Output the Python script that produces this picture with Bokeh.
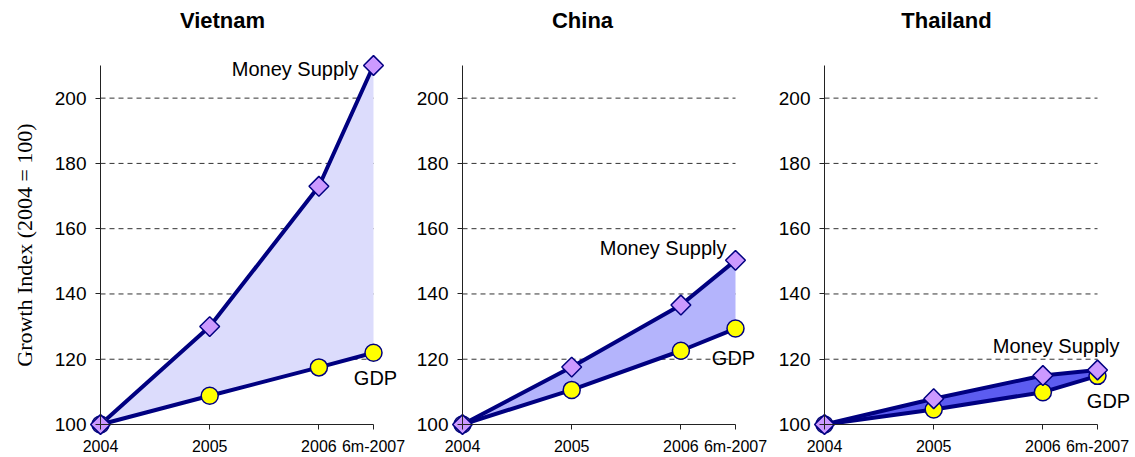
from bokeh.plotting import figure
from bokeh.layouts import row
from bokeh.models import Range1d, FixedTicker, Label
from bokeh.embed import file_html
from bokeh.resources import INLINE
import math

# ---------------- data ----------------
periods = ["2004", "2005", "2006", "6m-2007"]
period_x = [2004, 2005, 2006, 2006.5]
countries = ["Vietnam", "China", "Thailand"]
vietnam_money = [100, 130, 173, 210]
vietnam_gdp = [100, 108.8, 117.5, 122]
china_money = [100, 117.6, 136.6, 150.3]
china_gdp = [100, 110.6, 122.6, 129.4]
thailand_money = [100, 107.9, 115.0, 116.7]
thailand_gdp = [100, 104.6, 109.9, 114.9]
y_ticks = [100, 120, 140, 160, 180, 200]
grid_ticks = [120, 140, 160, 180, 200]
y_axis_label = "Growth Index (2004 = 100)"
money_label = "Money Supply"
gdp_label = "GDP"

money_series = [vietnam_money, china_money, thailand_money]
gdp_series = [vietnam_gdp, china_gdp, thailand_gdp]

# ---------------- style / layout ----------------
SX = 109.2      # px per year
SY = 3.2636     # px per index unit
NAVY = "#000080"
FILLS = ["#DCDCFC", "#B4B4FC", "#5C5CF0"]
FONT = "Liberation Sans"

panel_w = [408, 364, 363]         # figure widths
axis_px = [100, 54, 52]           # y-axis pixel offset inside each figure
title_cx = [222, 174, 174]        # title centre inside each figure
money_label_pos = [(-15, -3, "right"), (-9, 12, "right"), (22, 24, "right")]
gdp_label_pos = [(2, -25, "center"), (-2, -29, "center"), (11, -25, "center")]

HEIGHT = 457
y_start = 100 - (HEIGHT - 424) / SY
y_end = y_start + HEIGHT / SY

figs = []
for i, name in enumerate(countries):
    w = panel_w[i]
    x_start = period_x[0] - axis_px[i] / SX
    x_end = x_start + w / SX
    p = figure(width=w, height=HEIGHT, output_backend="svg", toolbar_location=None,
               x_range=Range1d(x_start, x_end), y_range=Range1d(y_start, y_end),
               min_border_left=0, min_border_right=0,
               min_border_top=0, min_border_bottom=0)
    p.outline_line_color = None
    p.background_fill_color = "white"
    p.border_fill_color = "white"

    p.add_layout(Label(x=title_cx[i], y=HEIGHT - 20, x_units="screen", y_units="screen",
                       text=name, text_align="center", text_baseline="middle",
                       text_font=FONT, text_font_size="22px", text_font_style="bold",
                       text_color="black"))

    # axes
    xa = p.xaxis[0]
    xa.fixed_location = y_ticks[0]
    xa.bounds = (period_x[0], period_x[-1])
    xa.ticker = FixedTicker(ticks=period_x)
    xa.major_label_overrides = {x: lab for x, lab in zip(period_x, periods)}
    xa.major_label_text_font = FONT
    xa.major_label_text_font_size = "16px"
    xa.major_label_text_color = "black"
    xa.major_label_standoff = 8
    xa.major_tick_out = 5
    xa.major_tick_in = 0
    xa.minor_tick_line_color = None
    xa.axis_line_color = "#222222"
    xa.major_tick_line_color = "#222222"

    ya = p.yaxis[0]
    ya.fixed_location = period_x[0]
    ya.bounds = (100, 210)
    ya.ticker = FixedTicker(ticks=y_ticks)
    ya.major_label_text_font = FONT
    ya.major_label_text_font_size = "19px"
    ya.major_label_text_color = "black"
    ya.major_label_standoff = 9
    ya.major_tick_out = 5
    ya.major_tick_in = 0
    ya.minor_tick_line_color = None
    ya.axis_line_color = "#222222"
    ya.major_tick_line_color = "#222222"
    if i == 0:
        ya.axis_label = y_axis_label
        ya.axis_label_text_font = "Liberation Serif"
        ya.axis_label_text_font_size = "22px"
        ya.axis_label_text_font_style = "normal"
        ya.axis_label_text_color = "black"
        ya.axis_label_standoff = 15

    p.xgrid.visible = False
    p.ygrid.visible = False
    # dashed reference lines limited to the data span
    p.segment(x0=[period_x[0]] * len(grid_ticks), x1=[period_x[-1]] * len(grid_ticks),
              y0=grid_ticks, y1=grid_ticks, line_color="#333333", line_width=1,
              line_dash="5 4")

    ms = money_series[i]
    gdp = gdp_series[i]
    p.varea(x=period_x, y1=gdp, y2=ms, fill_color=FILLS[i], fill_alpha=1)
    p.line(period_x, gdp, line_color=NAVY, line_width=4)
    p.line(period_x, ms, line_color=NAVY, line_width=4)
    p.scatter(period_x, gdp, marker="circle", size=17, fill_color="#FFFF00",
              line_color=NAVY, line_width=1.5)
    p.scatter(period_x, ms, marker="square", size=14, angle=math.pi / 4,
              fill_color="#CC99FF", line_color=NAVY, line_width=1.5)

    mx, my, ma = money_label_pos[i]
    p.add_layout(Label(x=period_x[-1], y=ms[-1], text=money_label,
                       x_offset=mx, y_offset=my, text_align=ma, text_baseline="middle",
                       text_font=FONT, text_font_size="20px", text_color="black"))
    gx, gy, ga = gdp_label_pos[i]
    p.add_layout(Label(x=period_x[-1], y=gdp[-1], text=gdp_label,
                       x_offset=gx, y_offset=gy, text_align=ga, text_baseline="middle",
                       text_font=FONT, text_font_size="20px", text_color="black"))
    figs.append(p)

layout = row(*figs, spacing=0)
open("out.html", "w").write(file_html(layout, INLINE))
